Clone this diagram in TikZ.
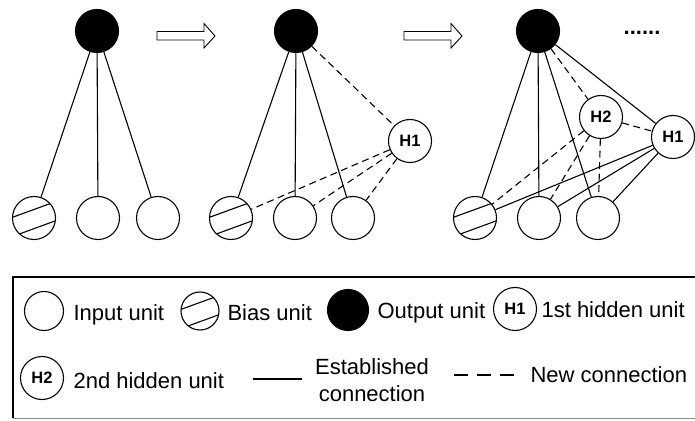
\documentclass[tikz,border=0pt]{standalone}
\usepackage{fontspec}
\setmainfont{Liberation Sans}
\begin{document}
\begin{tikzpicture}[x=1pt,y=1pt, line width=1.1pt,
  netunit/.style={circle, draw, minimum size=43pt, inner sep=0pt, font=\fontsize{16.5}{18}\selectfont\bfseries},
  outunit/.style={netunit, fill=black},
  biasunit/.style={netunit, path picture={\draw[line width=1.1pt, shift={(path picture bounding box.center)}] (-30.9,-2.7)--(25.5,17.8) (-24.8,-19.7)--(31.6,0.9);}},
  newconn/.style={dash pattern=on 7pt off 4.5pt},
  txt/.style={font=\fontsize{22}{27}\selectfont, inner sep=0pt, anchor=base west},
  hollowarrow/.style={line width=0.9pt, fill=white},
  ]
\useasboundingbox (0,0) rectangle (695,420);

% ---------- panel 1 ----------
\node[outunit] (O1) at (97,389) {};
\node[biasunit] (B1) at (34,202) {};
\node[netunit] (Ia1) at (98,202) {};
\node[netunit] (Ib1) at (158,202) {};
\draw (O1) -- (B1);
\draw (O1) -- (Ia1);
\draw (O1) -- (Ib1);

% ---------- panel 2 ----------
\node[outunit] (O2) at (296,389) {};
\node[biasunit] (B2) at (231,202) {};
\node[netunit] (Ia2) at (295,202) {};
\node[netunit] (Ib2) at (353,202) {};
\node[netunit] (H12) at (410,279) {H1};
\draw (O2) -- (B2);
\draw (O2) -- (Ia2);
\draw (O2) -- (Ib2);
\draw[newconn] (O2) -- (H12);
\draw[newconn] (H12) -- (B2);
\draw[newconn] (H12) -- (Ia2);
\draw[newconn] (H12) -- (Ib2);

% ---------- panel 3 ----------
\node[outunit] (O3) at (538,389) {};
\node[biasunit] (B3) at (475,202) {};
\node[netunit] (Ia3) at (539,202) {};
\node[netunit] (Ib3) at (598,202) {};
\node[netunit] (H23) at (601,303) {H2};
\node[netunit] (H13) at (673,283) {H1};
\draw (O3) -- (B3);
\draw (O3) -- (Ia3);
\draw (O3) -- (Ib3);
\draw (O3) -- (H13);
\draw (H13) -- (B3);
\draw (H13) -- (Ia3);
\draw (H13) -- (Ib3);
\draw[newconn] (O3) -- (H23);
\draw[newconn] (H23) -- (H13);
\draw[newconn] (H23) -- (B3);
\draw[newconn] (H23) -- (Ia3);
\draw[newconn] (H23) -- (Ib3);

\node[font=\fontsize{22}{27}\selectfont\bfseries, inner sep=0pt, anchor=base] (dots) at (642,385) {......};

% ---------- hollow arrows ----------
\foreach \xa/\xb in {157/215, 404/462}{
  \draw[hollowarrow] (\xa,380) -- ({\xb-11},380) -- ({\xb-11},372) -- (\xb,384)
     -- ({\xb-11},396.5) -- ({\xb-11},388.5) -- (\xa,388.5) -- cycle;
}

% ---------- legend ----------
\draw[line width=1.6pt] (696,143) -- (13,143) -- (13,2);
\draw[line width=0.8pt, black!45] (13,2) -- (696,2);

\node[netunit, minimum size=39pt] (Lin) at (44,109) {};
\node[txt] (Lint) at (73,99) {Input unit};
\node[biasunit, minimum size=38pt] (Lbias) at (200,109) {};
\node[txt] (Lbiast) at (227,99) {Bias unit};
\node[outunit, minimum size=41pt] (Lout) at (348,110) {};
\node[txt] (Loutt) at (377,101) {Output unit};
\node[netunit] (LH1) at (515,111) {H1};
\node[txt] (LH1t) at (541,102) {1st hidden unit};

\node[netunit] (LH2) at (42,42) {H2};
\node[txt] (LH2t) at (73,32) {2nd hidden unit};
\coordinate (Ls1) at (253,41);
\coordinate (Ls2) at (302,41);
\draw (Ls1) -- (Ls2);
\node[font=\fontsize{22}{27}\selectfont, inner sep=0pt, align=center] (Lest) at (372,40) {Established\\connection};
\coordinate (Ld1) at (454,45);
\coordinate (Ld2) at (514,45);
\draw[dash pattern=on 14pt off 9pt] (Ld1) -- (Ld2);
\node[txt] (Lnewt) at (530,38) {New connection};
\end{tikzpicture}
\end{document}
